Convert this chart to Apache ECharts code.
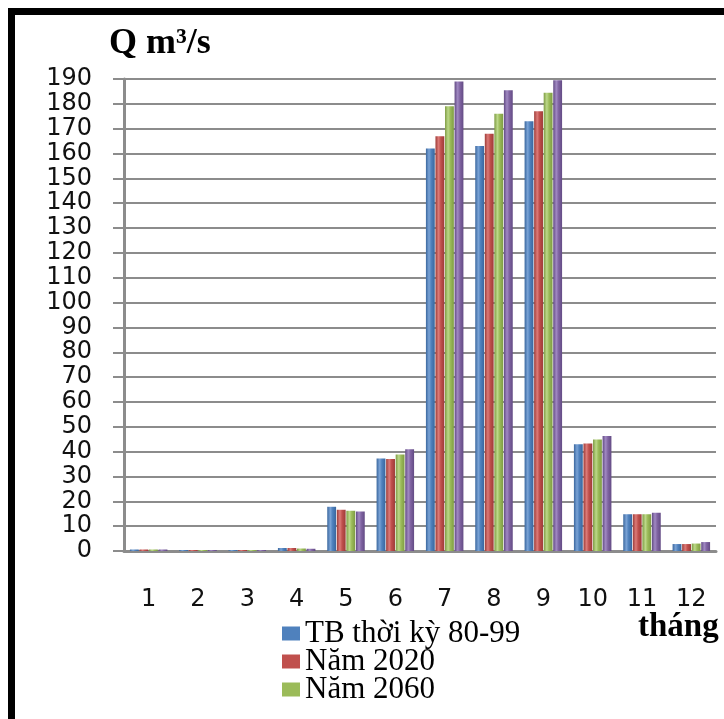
<!DOCTYPE html>
<html>
<head>
<meta charset="utf-8">
<script src="https://cdn.jsdelivr.net/npm/echarts@6/dist/echarts.min.js"></script>
<style>
html,body{margin:0;padding:0;background:#fff;}
#chart{width:724px;height:719px;}
</style>
</head>
<body>
<div id="chart"></div>
<script>
var months = ['1','2','3','4','5','6','7','8','9','10','11','12'];
var seriesNames = ['TB thời kỳ 80-99','Năm 2020','Năm 2060','Năm 2100'];
var tb8099  = [0.6, 0.4, 0.4, 1.2, 17.8, 37.2, 162, 163, 173, 43, 14.8, 2.8];
var nam2020 = [0.6, 0.4, 0.4, 1.2, 16.6, 37.0, 167, 168, 177, 43.3, 14.8, 2.8];
var nam2060 = [0.6, 0.4, 0.4, 1.0, 16.2, 38.8, 179, 176, 184.5, 44.9, 14.8, 3.0];
var nam2100 = [0.6, 0.4, 0.4, 0.9, 15.9, 41.0, 189, 185.5, 189.5, 46.3, 15.4, 3.6];
var yMin = 0, yMax = 190, yStep = 10;
var colors = ['#4f81bd','#c0504d','#9bbb59','#8064a2'];
var darks  = ['#3a679e','#9e3b38','#7e9c43','#634b84'];
var lights = ['#7aa3d6','#dc7b78','#bcd889','#a089c2'];

function grad(i){
  return new echarts.graphic.LinearGradient(0,0,1,0,[
    {offset:0,color:darks[i]},
    {offset:0.35,color:lights[i]},
    {offset:0.6,color:colors[i]},
    {offset:1,color:darks[i]}
  ]);
}
var values = [tb8099, nam2020, nam2060, nam2100];
var series = values.map(function(v,i){
  return {
    name: seriesNames[i],
    type: 'bar',
    data: v,
    barGap: '8%',
    barCategoryGap: '24%',
    itemStyle: {color: grad(i)}
  };
});
var legendData = seriesNames.slice(0,3).map(function(n,i){
  return {name:n, itemStyle:{color:colors[i]}};
});

var chart = echarts.init(document.getElementById('chart'), null, {renderer:'canvas'});
chart.setOption({
  animation: false,
  color: colors,
  title: {
    text: 'Q m³/s',
    left: 104, top: 21,
    textStyle: {fontFamily:'Liberation Serif', fontWeight:'bold', fontSize:36, color:'#000'}
  },
  legend: {
    data: legendData,
    orient: 'vertical',
    left: 282, top: 618,
    height: 120,
    padding: 0,
    icon: 'rect',
    itemWidth: 18, itemHeight: 14,
    itemGap: -3,
    textStyle: {fontFamily:'Liberation Serif', fontSize:31, lineHeight:29, color:'#000'}
  },
  grid: {left:124, right:8, top:79, bottom:168, containLabel:false},
  xAxis: {
    type: 'category',
    data: months,
    axisLine: {show:true, lineStyle:{color:'#8c8c8c', width:3}},
    axisTick: {show:false},
    axisLabel: {margin:37, fontFamily:'DejaVu Sans', fontSize:24, color:'#111'},
    splitLine: {show:false}
  },
  yAxis: {
    type: 'value',
    min: yMin, max: yMax, interval: yStep,
    axisLine: {show:true, lineStyle:{color:'#8c8c8c', width:3}},
    axisTick: {show:true, length:11, lineStyle:{color:'#8c8c8c', width:2}},
    axisLabel: {margin:32, fontFamily:'DejaVu Sans', fontSize:24, color:'#111'},
    splitLine: {show:true, lineStyle:{color:'#8c8c8c', width:2}}
  },
  graphic: [
    {type:'rect', shape:{x:11.5, y:11.5, width:1000, height:1000}, style:{fill:'none', stroke:'#000', lineWidth:7}, z:100},
    {type:'text', left:638, top:611, style:{text:'tháng', fontFamily:'Liberation Serif', fontWeight:'bold', fontSize:33, fill:'#000'}}
  ],
  series: series
});
</script>
</body>
</html>
